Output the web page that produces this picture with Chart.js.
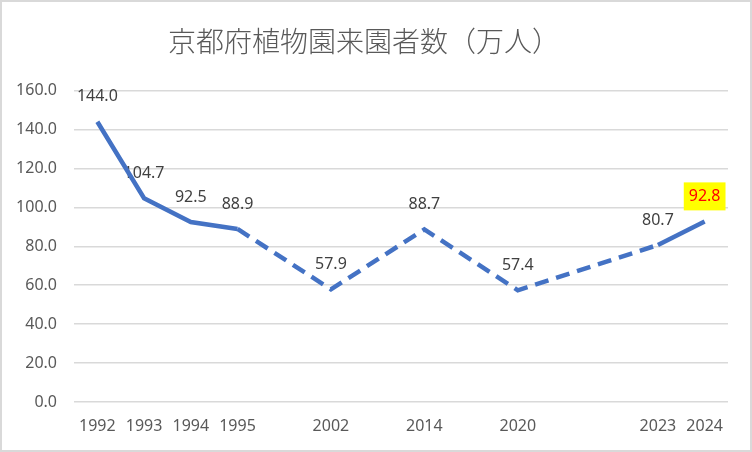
<!DOCTYPE html>
<html>
<head>
<meta charset="utf-8">
<script src="https://cdn.jsdelivr.net/npm/chart.js@4"></script>
<style>
  html, body { margin: 0; padding: 0; background: #fff; }
  #wrap { width: 752px; height: 452px; }
</style>
</head>
<body>
<div id="wrap"><canvas id="chart" width="752" height="452"></canvas></div>
<script>
// years in the survey; '' keeps a blank slot on the axis like the original sheet
const years = ['1992', '1993', '1994', '1995', '', '2002', '', '2014', '', '2020', '', '', '2023', '2024'];
// visitors, 10k people
const visitors = [144.0, 104.7, 92.5, 88.9, null, 57.9, null, 88.7, null, 57.4, null, null, 80.7, 92.8];
const yTicks = [0, 20, 40, 60, 80, 100, 120, 140, 160];
const highlightIndex = visitors.length - 1;

const numFont = '"Noto Sans", "Open Sans", sans-serif';

const frame = {
  id: 'frame',
  beforeDraw(chart) {
    const { ctx, width, height } = chart;
    ctx.save();
    ctx.fillStyle = '#fff';
    ctx.fillRect(0, 0, width, height);
    ctx.strokeStyle = '#d9d9d9';
    ctx.lineWidth = 2;
    ctx.strokeRect(1, 1, width - 2, height - 2);
    ctx.restore();
  },
};

const valueLabels = {
  id: 'valueLabels',
  beforeDatasetsDraw(chart) {
    const { ctx } = chart;
    const meta = chart.getDatasetMeta(0);
    ctx.save();
    ctx.font = '16px ' + numFont;
    ctx.textAlign = 'center';
    ctx.textBaseline = 'middle';
    meta.data.forEach((pt, i) => {
      const v = visitors[i];
      if (v == null) return;
      const text = v.toFixed(1);
      const x = pt.x;
      const y = pt.y - 25;
      if (i === highlightIndex) {
        const w = ctx.measureText(text).width + 10;
        ctx.fillStyle = '#ffff00';
        ctx.fillRect(x - w / 2, y - 14, w, 28);
        ctx.fillStyle = '#ff0000';
      } else {
        ctx.fillStyle = '#404040';
      }
      ctx.fillText(text, x, y);
    });
    ctx.restore();
  },
};

const gap = (ctx) => visitors[ctx.p0DataIndex] == null || visitors[ctx.p1DataIndex] == null;

new Chart(document.getElementById('chart'), {
  type: 'line',
  data: {
    labels: years,
    datasets: [{
      data: visitors,
      borderColor: '#4472c4',
      borderWidth: 4.5,
      pointRadius: 0,
      pointHoverRadius: 0,
      tension: 0,
      spanGaps: true,
      segment: {
        borderDash: (ctx) => (gap(ctx) ? [14, 8] : undefined),
      },
    }],
  },
  options: {
    responsive: false,
    animation: false,
    events: [],
    layout: { padding: { left: 0, right: 24, top: 0, bottom: 0 } },
    plugins: {
      legend: { display: false },
      tooltip: { enabled: false },
      title: {
        display: true,
        text: '京都府植物園来園者数（万人）',
        color: '#595959',
        font: { family: '"Noto Sans CJK JP", sans-serif', size: 28, weight: '300' },
        padding: { top: 25, bottom: 32 },
      },
    },
    scales: {
      x: {
        offset: true,
        grid: { display: false, drawTicks: false },
        border: { display: false },
        ticks: {
          autoSkip: false,
          maxRotation: 0,
          padding: 15,
          color: '#595959',
          font: { family: numFont, size: 16 },
        },
        afterFit: (s) => { s.height = 50; },
      },
      y: {
        min: 0,
        max: 160,
        afterBuildTicks: (s) => { s.ticks = yTicks.map((v) => ({ value: v })); },
        grid: { color: '#d9d9d9', lineWidth: 1.5, drawTicks: false },
        border: { display: false },
        ticks: {
          padding: 17,
          color: '#595959',
          font: { family: numFont, size: 16 },
          callback: (v) => Number(v).toFixed(1),
        },
        afterFit: (s) => { s.width = 74; },
      },
    },
  },
  plugins: [frame, valueLabels],
});
</script>
</body>
</html>
